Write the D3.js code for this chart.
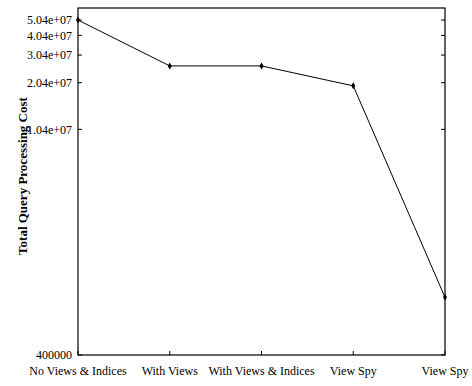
<!DOCTYPE html>
<html>
<head>
<meta charset="utf-8">
<script src="https://cdn.jsdelivr.net/npm/d3@7"></script>
<style>
  body { margin: 0; background: #fff; }
  svg { display: block; font-family: "Liberation Serif", "Times New Roman", serif; }
  .tick-label { font-size: 12px; fill: #000; }
  .axis-title { font-size: 13px; font-weight: bold; fill: #000; }
</style>
</head>
<body>
<div id="chart"></div>
<script>
// data
const categories = ['No Views & Indices', 'With Views', 'With Views & Indices', 'View Spy', 'View Spy'];
const costs = [5.04e7, 2.6e7, 2.6e7, 1.95e7, 9.2e5];
const yTicks = [400000, 1.04e7, 2.04e7, 3.04e7, 4.04e7, 5.04e7];
const yTickLabels = ['400000', '1.04e+07', '2.04e+07', '3.04e+07', '4.04e+07', '5.04e+07'];

const W = 472;
const H = 386;
const marginTop = 8;
const marginLeft = 78;
const marginRight = 27;
const marginBottom = 31;
const width = W - marginLeft - marginRight;
const height = H - marginTop - marginBottom;
const TICK = 4;

const $svg = d3.select('#chart').append('svg')
  .attr('width', W)
  .attr('height', H);

const $g = $svg.append('g')
  .attr('transform', `translate(${marginLeft}, ${marginTop})`);

// scales
const idx = categories.map((d, i) => i);
const scaleX = d3.scalePoint().domain(idx).range([0, width]).padding(0);
const scaleY = d3.scaleLog().domain([4e5, 6e7]).range([height, 0]);

// frame
$g.append('rect')
  .attr('x', 0).attr('y', 0)
  .attr('width', width).attr('height', height)
  .attr('fill', 'none')
  .attr('stroke', '#000')
  .attr('stroke-width', 1.2);

// y ticks (left + right, pointing inward)
const $yt = $g.selectAll('.ytick')
  .data(yTicks)
  .join('g')
  .attr('class', 'ytick')
  .attr('transform', d => `translate(0, ${scaleY(d)})`);

$yt.append('line')
  .attr('x1', 0).attr('x2', TICK)
  .attr('stroke', '#000');

$yt.append('line')
  .attr('x1', width).attr('x2', width - TICK)
  .attr('stroke', '#000');

$yt.append('text')
  .attr('class', 'tick-label')
  .attr('x', -6)
  .attr('dy', '0.35em')
  .attr('text-anchor', 'end')
  .text((d, i) => yTickLabels[i]);

// x ticks (bottom, pointing up)
const $xt = $g.selectAll('.xtick')
  .data(idx)
  .join('g')
  .attr('class', 'xtick')
  .attr('transform', d => `translate(${scaleX(d)}, ${height})`);

$xt.append('line')
  .attr('y1', 0).attr('y2', -TICK)
  .attr('stroke', '#000');

$xt.append('text')
  .attr('class', 'tick-label')
  .attr('y', 20)
  .attr('text-anchor', 'middle')
  .text(d => categories[d]);

// y title
$svg.append('text')
  .attr('class', 'axis-title')
  .attr('transform', 'translate(27, 176) rotate(-90)')
  .attr('text-anchor', 'middle')
  .text('Total Query Processing Cost');

// line
const line = d3.line()
  .x((d, i) => scaleX(i))
  .y(d => scaleY(d));

$g.append('path')
  .datum(costs)
  .attr('d', line)
  .attr('fill', 'none')
  .attr('stroke', '#000')
  .attr('stroke-width', 1);

$g.selectAll('.pt')
  .data(costs)
  .join('path')
  .attr('class', 'pt')
  .attr('transform', (d, i) => `translate(${scaleX(i)}, ${scaleY(d)})`)
  .attr('d', d3.symbol(d3.symbolDiamond, 14))
  .attr('fill', '#000');
</script>
</body>
</html>
